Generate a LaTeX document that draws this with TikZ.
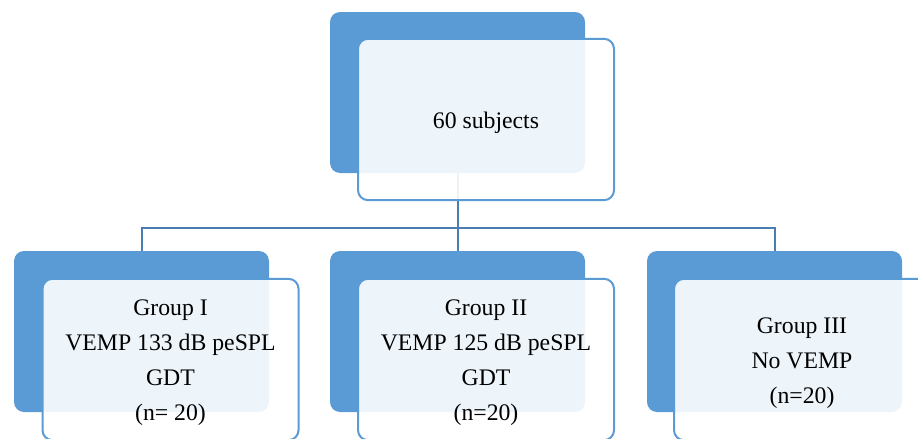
\documentclass[tikz,border=0pt]{standalone}
\usepackage{fontspec}
\setmainfont{Liberation Serif}
\usepackage{xcolor}
\usepackage{tikz}
\usetikzlibrary{positioning}
\definecolor{boxblue}{HTML}{5B9BD5}
\definecolor{lineblue}{HTML}{4A7DB2}
\tikzstyle{backbox} = [
    rectangle,
    rounded corners=7.5pt,
    fill=boxblue,
    minimum width=191.25pt,
    minimum height=120.75pt,
    inner sep=0pt
]
\tikzstyle{frontbox} = [
    rectangle,
    rounded corners=7.5pt,
    draw=boxblue,
    line width=1.5pt,
    fill=white,
    fill opacity=0.9,
    text opacity=1,
    minimum width=192pt,
    minimum height=121pt,
    inner sep=0pt,
    align=center,
    font=\fontsize{17.8pt}{26.3pt}\selectfont
]
\tikzstyle{conn} = [
    draw=lineblue,
    line width=1.5pt
]

\begin{document}
\begin{tikzpicture}[x=0.75pt,y=-0.75pt]

\useasboundingbox (0,0) rectangle (918,439);
\clip (0,0) rectangle (918,439);

\node[backbox] (topback) at (457.5,92.5) {};

\node[backbox] (g1back) at (141.5,331.5) {};

\node[backbox] (g2back) at (457.5,331.5) {};

\node[backbox] (g3back) at (774.5,331.5) {};

\coordinate (bus) at (0,228);

\draw[conn] (topback.south) -- (topback.south |- bus) -| (g1back.north);

\draw[conn] (topback.south |- bus) -- (g2back.north);

\draw[conn] (topback.south |- bus) -| (g3back.north);

\node[frontbox] (top) at (486,119.5) {\rule{0pt}{17pt}60 subjects};

\node[frontbox] (g1) at (170.5,359.5)
{\rule{0pt}{16.75pt}Group I\\VEMP 133 dB peSPL\\GDT\\(n= 20)};

\node[frontbox] (g2) at (486,359.5)
{\rule{0pt}{16.75pt}Group II\\VEMP 125 dB peSPL\\GDT\\(n=20)};

\node[frontbox] (g3) at (802,359.5)
{\rule{0pt}{17.5pt}Group III\\No VEMP\\(n=20)};

\end{tikzpicture}
\end{document}
